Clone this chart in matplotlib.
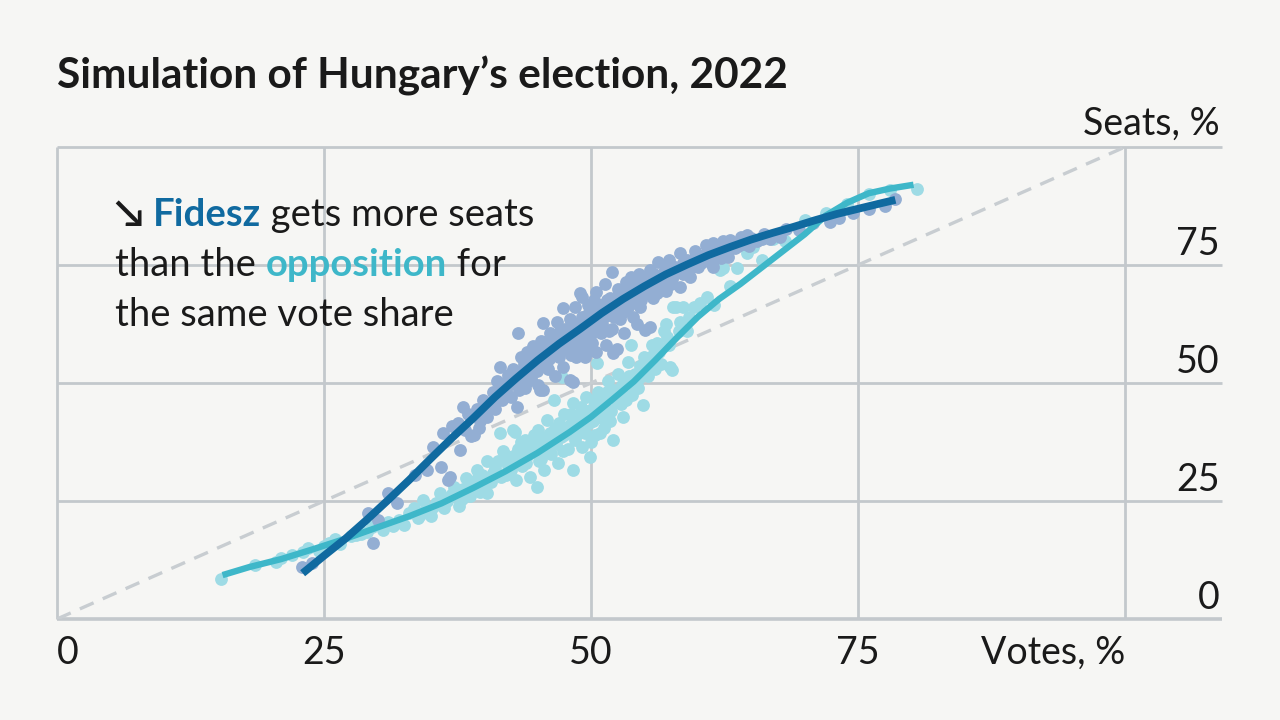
import numpy as np
import matplotlib
matplotlib.use("Agg")
import matplotlib.pyplot as plt

# ---------------------------------------------------------------------
# DATA
# ---------------------------------------------------------------------

title = "Simulation of Hungary\u2019s election, 2022"
x_ticks = [0, 25, 50, 75]
y_ticks = [0, 25, 50, 75]
x_label = "Votes, %"
y_label = "Seats, %"

# smoothed fits (votes %, seats %)
fidesz_fit_votes = [23.0, 25, 27, 29, 31, 33, 35, 37, 39, 41, 43, 45, 47, 49,
                    51, 53, 55, 57, 59, 61, 63, 65, 67, 69, 71, 73, 75, 77, 78.5]
fidesz_fit_seats = [9.7, 13.4, 17.0, 21.0, 25.2, 29.5, 34.0, 38.4, 42.6, 47.0,
                    51.0, 54.8, 58.3, 61.5, 64.8, 67.8, 70.5, 73.0, 75.1, 77.1,
                    78.8, 80.4, 81.8, 83.1, 84.5, 85.8, 86.9, 88.0, 88.8]

opp_fit_votes = [15.5, 18, 21, 24, 27, 30, 33, 36, 39, 42, 45, 48, 50, 52, 54,
                 56, 58, 60, 62, 64, 66, 68, 70, 72, 74, 76, 78, 80.2]
opp_fit_seats = [9.3, 11.0, 12.7, 14.8, 17.0, 19.4, 21.8, 24.5, 27.8, 31.3,
                 35.2, 39.6, 42.8, 46.5, 50.3, 54.8, 59.5, 64.0, 67.8, 71.0,
                 74.5, 78.0, 81.5, 85.5, 88.2, 90.2, 91.2, 92.0]

# simulated outcomes (votes %, seats %)
fidesz_points = [
    (22.9, 11.0), (23.9, 11.9), (29.6, 16.1), (29.1, 22.5), (30.1, 21.0),
    (31.0, 26.7), (31.8, 24.6), (33.5, 30.5), (34.6, 31.6), (36.0, 32.2),
    (36.6, 29.4), (36.1, 39.4), (37.0, 40.8), (37.7, 35.8), (35.2, 36.5),
    (38.0, 45.0), (36.8, 30.0),
    (37.5, 41.5), (38.2, 40.0), (38.5, 43.5), (38.8, 38.8), (39.0, 39.0),
    (39.3, 44.5), (39.6, 42.0), (39.9, 46.5), (40.3, 42.8), (40.5, 45.5),
    (40.8, 48.0), (41.0, 44.5), (41.2, 50.5), (41.5, 53.4), (41.7, 46.5),
    (42.0, 48.5), (42.2, 51.8), (42.5, 47.0), (42.7, 53.0), (43.0, 50.0),
    (43.1, 45.0), (43.2, 60.6), (43.4, 55.5), (43.6, 52.5), (43.8, 49.0),
    (44.0, 56.5), (44.2, 53.5), (44.4, 51.0), (44.6, 57.8), (44.8, 54.5),
    (45.0, 49.5), (45.2, 48.5), (45.3, 59.0), (45.5, 62.7), (45.5, 48.5),
    (45.7, 56.0),
    (46.0, 53.0), (46.2, 60.5), (46.4, 57.5), (46.6, 51.5), (46.8, 63.0),
    (47.0, 55.5), (47.2, 59.5), (47.4, 65.9), (47.4, 53.4), (47.6, 61.5),
    (47.8, 57.0), (48.0, 50.6), (48.0, 63.5), (48.2, 59.0), (48.3, 50.2),
    (48.5, 66.0), (48.6, 55.5), (48.8, 61.0), (49.0, 69.0), (49.0, 57.5),
    (49.2, 64.0), (49.2, 68.2), (49.4, 55.5), (49.5, 60.0), (49.7, 66.5),
    (49.9, 62.5), (50.1, 58.5), (50.3, 67.5), (50.5, 69.3), (50.5, 56.5),
    (50.7, 63.5), (50.9, 60.5), (51.1, 66.0), (51.3, 71.0), (51.4, 58.0),
    (51.6, 64.5), (51.8, 68.0), (52.0, 73.5), (52.0, 61.5), (52.1, 56.4),
    (52.4, 57.2), (52.3, 66.5), (52.5, 70.0), (52.7, 63.5), (52.9, 68.5),
    (53.1, 60.5), (53.3, 71.5), (53.5, 66.0), (53.7, 72.5), (53.9, 64.0),
    (54.1, 69.0), (54.3, 62.5), (54.5, 73.0), (54.7, 67.5), (54.9, 70.5),
    (55.2, 69.0), (55.5, 61.9), (55.1, 61.2),
    (55.5, 74.0), (55.8, 68.0), (56.0, 71.5), (56.3, 75.6), (56.5, 70.0),
    (56.8, 73.5), (57.0, 69.5), (57.3, 76.0), (57.6, 72.0), (57.9, 74.5),
    (58.3, 77.5), (58.3, 70.3), (58.6, 73.0), (59.0, 76.0), (59.3, 72.5),
    (59.7, 78.0), (60.0, 74.5), (60.4, 77.0), (60.8, 79.2), (61.2, 75.5),
    (61.4, 79.7), (61.4, 74.6), (61.9, 77.5), (62.4, 80.0), (62.8, 76.8),
    (63.0, 80.3), (63.5, 78.5), (64.0, 81.0), (64.6, 81.4), (64.8, 79.0),
    (65.5, 80.0), (66.2, 81.5), (66.8, 80.5), (67.7, 80.9), (68.3, 82.6),
    (69.5, 82.5), (70.8, 84.0), (72.4, 84.1), (73.2, 85.0), (74.5, 86.0),
    (76.0, 86.8), (77.5, 87.5), (78.5, 89.0),
    (39.5, 40.5), (40.0, 43.5), (40.8, 45.5), (41.3, 48.0), (41.9, 50.0),
    (42.4, 49.8), (42.9, 52.0), (43.3, 48.5), (43.7, 54.0), (44.1, 50.5),
    (44.5, 55.5), (44.9, 52.5), (45.2, 57.0), (45.6, 53.5), (45.9, 58.5),
    (46.1, 55.0), (46.5, 59.5), (46.9, 56.5), (47.1, 61.0), (47.5, 57.5),
    (47.9, 60.5), (48.1, 56.0), (48.4, 62.5), (48.7, 58.5), (49.1, 63.0),
    (49.3, 59.0), (49.6, 64.5), (49.8, 57.0), (50.2, 65.0), (50.4, 61.0),
    (50.8, 66.5), (51.0, 62.5), (51.5, 67.5), (51.7, 61.0), (52.2, 64.0),
    (52.6, 68.5), (53.0, 65.0), (53.4, 69.5), (53.8, 67.0), (54.2, 71.0),
    (54.6, 66.0), (55.0, 72.5), (55.4, 69.5), (55.9, 73.0), (56.2, 69.0),
    (56.6, 72.5), (57.1, 74.5), (57.5, 71.0), (58.0, 73.5), (58.6, 75.5),
    (59.2, 74.0), (59.8, 76.0), (60.3, 75.5), (60.9, 77.5), (61.7, 78.5),
    (62.2, 76.5), (63.2, 79.0), (64.3, 79.5),
    (40.2, 45.0), (41.1, 47.5), (41.6, 49.0), (42.3, 50.5), (42.8, 51.0),
    (43.5, 51.5), (44.3, 54.0), (44.7, 53.0), (45.4, 55.5), (45.8, 54.5),
    (46.3, 56.5), (46.7, 58.5), (47.3, 57.5), (47.7, 59.0), (48.3, 60.0),
    (48.9, 59.5), (49.4, 62.0), (49.9, 60.0), (50.6, 62.0), (51.2, 64.0),
    (51.9, 65.5), (52.8, 66.0), (53.6, 68.0), (54.4, 68.5), (55.3, 71.0),
    (56.1, 72.0), (56.9, 71.5), (57.8, 73.0), (58.8, 74.5), (59.5, 75.0),
    (60.6, 76.0), (61.6, 76.5), (62.6, 78.0), (63.8, 79.0), (65.0, 80.8),
    (66.0, 80.5),
]

opp_points = [
    (15.4, 8.5), (18.5, 11.5), (20.5, 12.0), (22.0, 13.5), (23.5, 15.0),
    (24.5, 14.5), (25.5, 16.0), (26.5, 15.8), (27.5, 17.5), (28.5, 18.0),
    (29.5, 19.5), (30.5, 18.8), (31.0, 20.5), (32.0, 21.0), (32.5, 20.0),
    (33.0, 22.5), (33.8, 21.5), (34.3, 25.2), (34.5, 23.0), (35.0, 21.8),
    (35.5, 24.5), (35.9, 26.7), (36.2, 23.5), (36.8, 25.8), (37.2, 28.0),
    (37.6, 24.0), (38.0, 27.5), (38.3, 29.8), (38.7, 26.0), (39.0, 28.5),
    (39.3, 31.5), (39.6, 27.0), (40.0, 30.0), (40.3, 33.5), (40.3, 26.7),
    (40.6, 29.0), (41.0, 32.0), (41.5, 39.4), (41.8, 35.5), (42.0, 30.5),
    (42.3, 33.5), (42.7, 40.0), (42.9, 39.6), (43.0, 29.5), (43.2, 36.0),
    (43.5, 32.5), (43.8, 38.0), (44.0, 34.5), (44.3, 30.0), (44.6, 37.0),
    (44.9, 28.0), (45.0, 40.0), (45.3, 34.0), (45.6, 31.5), (45.9, 42.2),
    (46.0, 37.5), (46.3, 35.0), (46.5, 46.4), (46.6, 40.5), (46.9, 33.0),
    (47.2, 38.5), (47.3, 51.3), (47.5, 43.5), (47.8, 36.0), (48.0, 41.0),
    (48.3, 45.8), (48.3, 31.6), (48.6, 39.0), (48.9, 43.0), (49.2, 36.5),
    (49.5, 47.0), (49.8, 41.5), (49.9, 34.3), (50.1, 44.5), (50.4, 39.0),
    (50.6, 54.2), (50.7, 48.0), (50.8, 39.4), (51.0, 42.5), (51.3, 46.0),
    (51.6, 50.5), (51.9, 44.0), (52.1, 37.9), (52.2, 48.5), (52.5, 52.0),
    (52.8, 45.5), (53.0, 42.8), (53.2, 50.0), (53.5, 54.5), (53.7, 58.0),
    (53.8, 47.5), (54.1, 52.0), (54.4, 49.0), (54.9, 45.3), (55.0, 55.5),
    (55.3, 51.5), (55.7, 58.0), (56.0, 53.0), (56.4, 56.5), (56.8, 61.0),
    (57.1, 59.7), (57.4, 53.4), (57.6, 52.8), (57.7, 66.1), (58.0, 66.1),
    (58.3, 63.0), (58.6, 66.1), (59.0, 61.0), (59.6, 66.1), (60.2, 67.0),
    (60.9, 68.2), (61.5, 66.5), (62.1, 73.9), (62.4, 74.4), (63.0, 70.5),
    (63.7, 74.4), (64.6, 77.5), (65.2, 78.8), (66.0, 76.0), (67.0, 80.5),
    (68.2, 80.0), (70.0, 84.5), (72.0, 86.0), (74.0, 88.0), (76.0, 90.0),
    (78.0, 90.8), (80.5, 91.0),
    (21.0, 13.0), (23.0, 14.2), (25.0, 15.5), (26.0, 17.0), (28.0, 17.8),
    (29.0, 18.5), (30.0, 20.2), (31.5, 19.8), (33.4, 23.5), (34.0, 22.0),
    (35.2, 23.8), (36.5, 25.0), (37.0, 26.5), (37.9, 25.5), (38.5, 28.0),
    (39.2, 29.5), (39.8, 30.5), (40.8, 31.0), (41.3, 33.5), (41.6, 30.0),
    (42.1, 34.5), (42.5, 31.5), (43.0, 35.0), (43.4, 37.5), (43.9, 33.0),
    (44.2, 36.5), (44.7, 39.0), (45.1, 33.5), (45.5, 37.5), (45.8, 35.5),
    (46.2, 39.5), (46.7, 37.0), (47.0, 41.5), (47.4, 35.5), (47.7, 40.0),
    (48.1, 43.5), (48.5, 38.0), (48.8, 41.0), (49.1, 45.0), (49.4, 39.5),
    (49.7, 43.0), (50.0, 37.5), (50.3, 46.5), (50.9, 44.0), (51.2, 40.5),
    (51.5, 48.0), (51.8, 42.0), (52.4, 46.0), (52.9, 49.5), (53.3, 46.5),
    (53.6, 51.5), (54.0, 49.0), (54.6, 53.5), (55.5, 55.0), (56.2, 58.5),
    (56.6, 54.0), (57.0, 62.5),
    (38.0, 26.0), (39.0, 27.5), (40.0, 28.5), (41.2, 30.5), (42.2, 32.5),
    (43.1, 33.5), (44.0, 35.5), (44.8, 36.0), (45.4, 38.5), (46.1, 38.0),
    (46.8, 39.5), (47.5, 39.0), (48.2, 40.5), (48.9, 42.0), (49.6, 44.0),
    (50.2, 42.0), (50.8, 45.5), (51.4, 44.5), (52.0, 47.0), (52.6, 48.0),
    (53.1, 47.5), (53.9, 50.5), (54.5, 51.0), (55.2, 53.5), (55.8, 56.0),
    (56.5, 57.5), (57.3, 58.0), (58.2, 61.0), (59.2, 64.0),
]

# ---------------------------------------------------------------------
# STYLE
# ---------------------------------------------------------------------

BG = "#f6f6f4"
GRID = "#c3c8cc"
DASH = "#c8cdd1"
INK = "#1a1a1a"
FIDESZ_LINE = "#106aa0"
FIDESZ_DOT = "#93aed3"
OPP_LINE = "#3eb7c9"
OPP_DOT = "#9edbe5"
FONT = ["Lato", "DejaVu Sans"]
DOT_SIZE = 85

W, H = 1280, 720
fig = plt.figure(figsize=(W / 100, H / 100), dpi=100, facecolor=BG)

# plot area: x 0..100 -> px 57..1125, y 0..100 -> px 619..147
ax = fig.add_axes([57 / W, (H - 619) / H, (1125 - 57) / W, (619 - 147) / H])
ax.set_facecolor(BG)
ax.set_xlim(0, 100)
ax.set_ylim(0, 100)
for s in ax.spines.values():
    s.set_visible(False)
ax.set_xticks([])
ax.set_yticks([])

x_ext = (1222 - 57) / (1125 - 57)   # horizontal rules run past x=100

for yv in [0, 25, 50, 75, 100]:
    ax.plot([0, x_ext], [yv, yv], transform=ax.get_yaxis_transform(),
            color=GRID, lw=2.6 if yv == 0 else 2.0, clip_on=False, zorder=1,
            solid_capstyle="butt")
for xv in [0, 25, 50, 75, 100]:
    ax.plot([xv, xv], [0, 100], color=GRID, lw=2.0, zorder=1,
            clip_on=False, solid_capstyle="butt")

ax.plot([0, 100], [0, 100], color=DASH, lw=2.4, ls=(0, (4.5, 3)), zorder=2)

ov, os_ = zip(*opp_points)
fv, fs = zip(*fidesz_points)
ax.scatter(ov, os_, s=DOT_SIZE, color=OPP_DOT, linewidths=0, zorder=3)
ax.scatter(fv, fs, s=DOT_SIZE, color=FIDESZ_DOT, linewidths=0, zorder=4)

ax.plot(opp_fit_votes, opp_fit_seats, color=OPP_LINE, lw=4.6, zorder=5,
        solid_capstyle="butt", solid_joinstyle="round")
ax.plot(fidesz_fit_votes, fidesz_fit_seats, color=FIDESZ_LINE, lw=5.6, zorder=6,
        solid_capstyle="butt", solid_joinstyle="round")

# tick labels
TICK_FS = 27
for xv in x_ticks:
    ax.annotate(str(xv), xy=(xv, 0), xycoords="data", xytext=(0, -16),
                textcoords="offset pixels", ha="left" if xv == 0 else "center",
                va="top", fontsize=TICK_FS, color=INK, family=FONT)
ax.annotate(x_label, xy=(100, 0), xycoords="data", xytext=(0, -16),
            textcoords="offset pixels", ha="right", va="top",
            fontsize=TICK_FS, color=INK, family=FONT)

ytrans = ax.get_yaxis_transform()
for yv in y_ticks:
    ax.annotate(str(yv), xy=(x_ext, yv), xycoords=ytrans, xytext=(-2, 10),
                textcoords="offset pixels", ha="right", va="baseline",
                fontsize=TICK_FS, color=INK, family=FONT)
ax.annotate(y_label, xy=(x_ext, 100), xycoords=ytrans, xytext=(-2, 12),
            textcoords="offset pixels", ha="right", va="baseline",
            fontsize=TICK_FS, color=INK, family=FONT)

# title
fig.text(57 / W, 1 - 89 / H, title, fontsize=30.5, weight="bold", color=INK,
         family=FONT, ha="left", va="baseline")

# annotation, coloured word by word
renderer = fig.canvas.get_renderer()
ANN_FS = 27.5


def write_line(x_px, y_px, parts):
    for txt, color, weight in parts:
        t = fig.text(x_px / W, 1 - y_px / H, txt, fontsize=ANN_FS, color=color,
                     weight=weight, family=FONT, ha="left", va="baseline")
        x_px += t.get_window_extent(renderer).width


write_line(115, 226, [("\u2198 ", INK, "bold"), ("Fidesz", FIDESZ_LINE, "bold"),
                      (" gets more seats", INK, "normal")])
write_line(115, 276, [("than the ", INK, "normal"), ("opposition", OPP_LINE, "bold"),
                      (" for", INK, "normal")])
write_line(115, 326, [("the same vote share", INK, "normal")])

fig.savefig("out.png", dpi=100, facecolor=BG)
